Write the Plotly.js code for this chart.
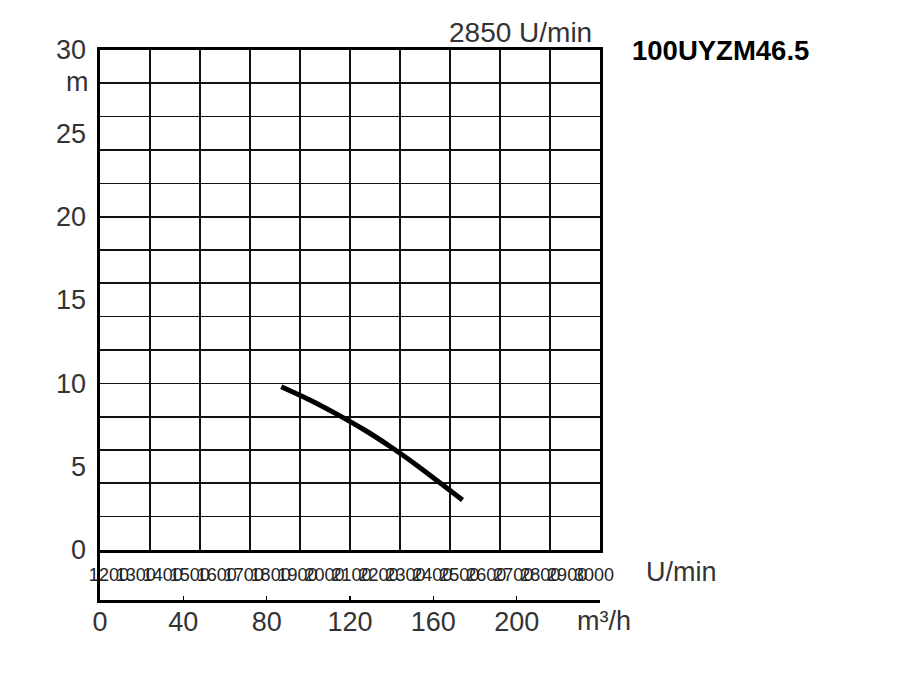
<!DOCTYPE html>
<html>
<head>
<meta charset="utf-8">
<script src="https://cdn.plot.ly/plotly-3.0.1.min.js"></script>
<style>html,body{margin:0;padding:0;background:#fff;}</style>
</head>
<body>
<div id="chart" style="width:900px;height:700px;"></div>
<script>
// Pump curve 100UYZM46.5 at 2850 U/min
const flowQ = [87, 100, 113, 127, 140, 153, 163, 174];      // m³/h
const headH = [9.8, 9.05, 8.2, 7.2, 6.15, 5.0, 4.05, 3.0];  // m
const headTicks = [0, 5, 10, 15, 20, 25, 30];
const headTickText = ["0", "5", "10", "15", "20", "25", "30"];
const flowTicks = [0, 40, 80, 120, 160, 200];
const flowTickText = ["0", "40", "80", "120", "160", "200"];
const rpmTicks = [1200,1300,1400,1500,1600,1700,1800,1900,2000,2100,2200,2300,2400,2500,2600,2700,2800,2900,3000];
const rpmTickText = rpmTicks.map(String);

const FONT = "Liberation Sans, Arial, sans-serif";
const TXT = "#333";

const traces = [
  {x: flowQ, y: headH, type: "scatter", mode: "lines",
   line: {color: "#000", width: 5, shape: "spline", smoothing: 0.8},
   xaxis: "x", yaxis: "y", hoverinfo: "skip", showlegend: false},
  // empty traces so that the label / bottom axes are drawn
  {x: [], y: [], type: "scatter", mode: "lines", xaxis: "x", yaxis: "y2", showlegend: false, hoverinfo: "skip"},
  {x: [], y: [], type: "scatter", mode: "lines", xaxis: "x3", yaxis: "y3", showlegend: false, hoverinfo: "skip"},
  {x: [], y: [], type: "scatter", mode: "lines", xaxis: "x4", yaxis: "y3", showlegend: false, hoverinfo: "skip"}
];

const layout = {
  width: 900, height: 700,
  margin: {l: 100, r: 300, t: 50, b: 100, pad: 0},
  paper_bgcolor: "#fff", plot_bgcolor: "#fff",
  showlegend: false,
  font: {family: FONT, color: TXT, size: 27},
  xaxis: {
    domain: [0, 1], range: [0, 240], anchor: "y",
    tick0: 0, dtick: 48, ticks: "", showticklabels: false,
    showgrid: true, gridcolor: "#111", gridwidth: 2,
    minor: {tick0: 0, dtick: 24, showgrid: true, gridcolor: "#111", gridwidth: 1.4},
    showline: true, mirror: true, linecolor: "#000", linewidth: 3, zeroline: false
  },
  yaxis: {
    domain: [50/550, 1], range: [0, 30], anchor: "x",
    tick0: 0, dtick: 4, ticks: "", showticklabels: false,
    showgrid: true, gridcolor: "#111", gridwidth: 2,
    minor: {tick0: 0, dtick: 2, showgrid: true, gridcolor: "#111", gridwidth: 1.4},
    showline: true, mirror: true, linecolor: "#000", linewidth: 3, zeroline: false
  },
  yaxis2: {
    overlaying: "y", anchor: "x", side: "left", range: [0, 30],
    tickmode: "array", tickvals: headTicks, ticktext: headTickText,
    ticks: "", showgrid: false, zeroline: false, showline: false,
    ticklabelstandoff: 13,
    tickfont: {family: FONT, size: 27, color: TXT}
  },
  xaxis3: {
    domain: [0, 1], range: [0, 240], anchor: "y3",
    tickmode: "array", tickvals: flowTicks, ticktext: flowTickText,
    ticks: "inside", ticklen: 4, tickwidth: 1.5, tickcolor: "#000",
    showgrid: false, zeroline: false,
    showline: true, linecolor: "#000", linewidth: 3,
    ticklabelstandoff: -4,
    tickfont: {family: FONT, size: 27, color: TXT}
  },
  yaxis3: {
    domain: [0, 50/550], range: [0, 1], anchor: "x3",
    ticks: "", showticklabels: false, showgrid: false, zeroline: false,
    showline: true, linecolor: "#000", linewidth: 3
  },
  xaxis4: {
    overlaying: "x3", anchor: "free", position: 38/550,
    range: [1167, 3022],
    tickmode: "array", tickvals: rpmTicks, ticktext: rpmTickText,
    tickangle: 0,
    ticks: "", showgrid: false, zeroline: false, showline: false,
    tickfont: {family: FONT, size: 18, color: "#222"}
  },
  annotations: [
    {text: "m", xref: "paper", yref: "paper", x: -0.046, y: 518/550,
     xanchor: "center", yanchor: "middle", showarrow: false,
     font: {family: FONT, size: 27, color: TXT}},
    {text: "2850 U/min", xref: "paper", yref: "paper", x: 494/500, y: 568/550,
     xanchor: "right", yanchor: "middle", showarrow: false,
     font: {family: FONT, size: 28, color: TXT}},
    {text: "<b>100UYZM46.5</b>", xref: "paper", yref: "paper", x: 530/500, y: 550/550,
     xanchor: "left", yanchor: "middle", showarrow: false,
     font: {family: FONT, size: 27.5, color: "#000"}},
    {text: "U/min", xref: "paper", yref: "paper", x: 544/500, y: 28/550,
     xanchor: "left", yanchor: "middle", showarrow: false,
     font: {family: FONT, size: 27, color: TXT}},
    {text: "m³/h", xref: "paper", yref: "paper", x: 475/500, y: -21/550,
     xanchor: "left", yanchor: "middle", showarrow: false,
     font: {family: FONT, size: 27, color: TXT}}
  ]
};

Plotly.newPlot("chart", traces, layout, {staticPlot: true, displayModeBar: false});
</script>
</body>
</html>
